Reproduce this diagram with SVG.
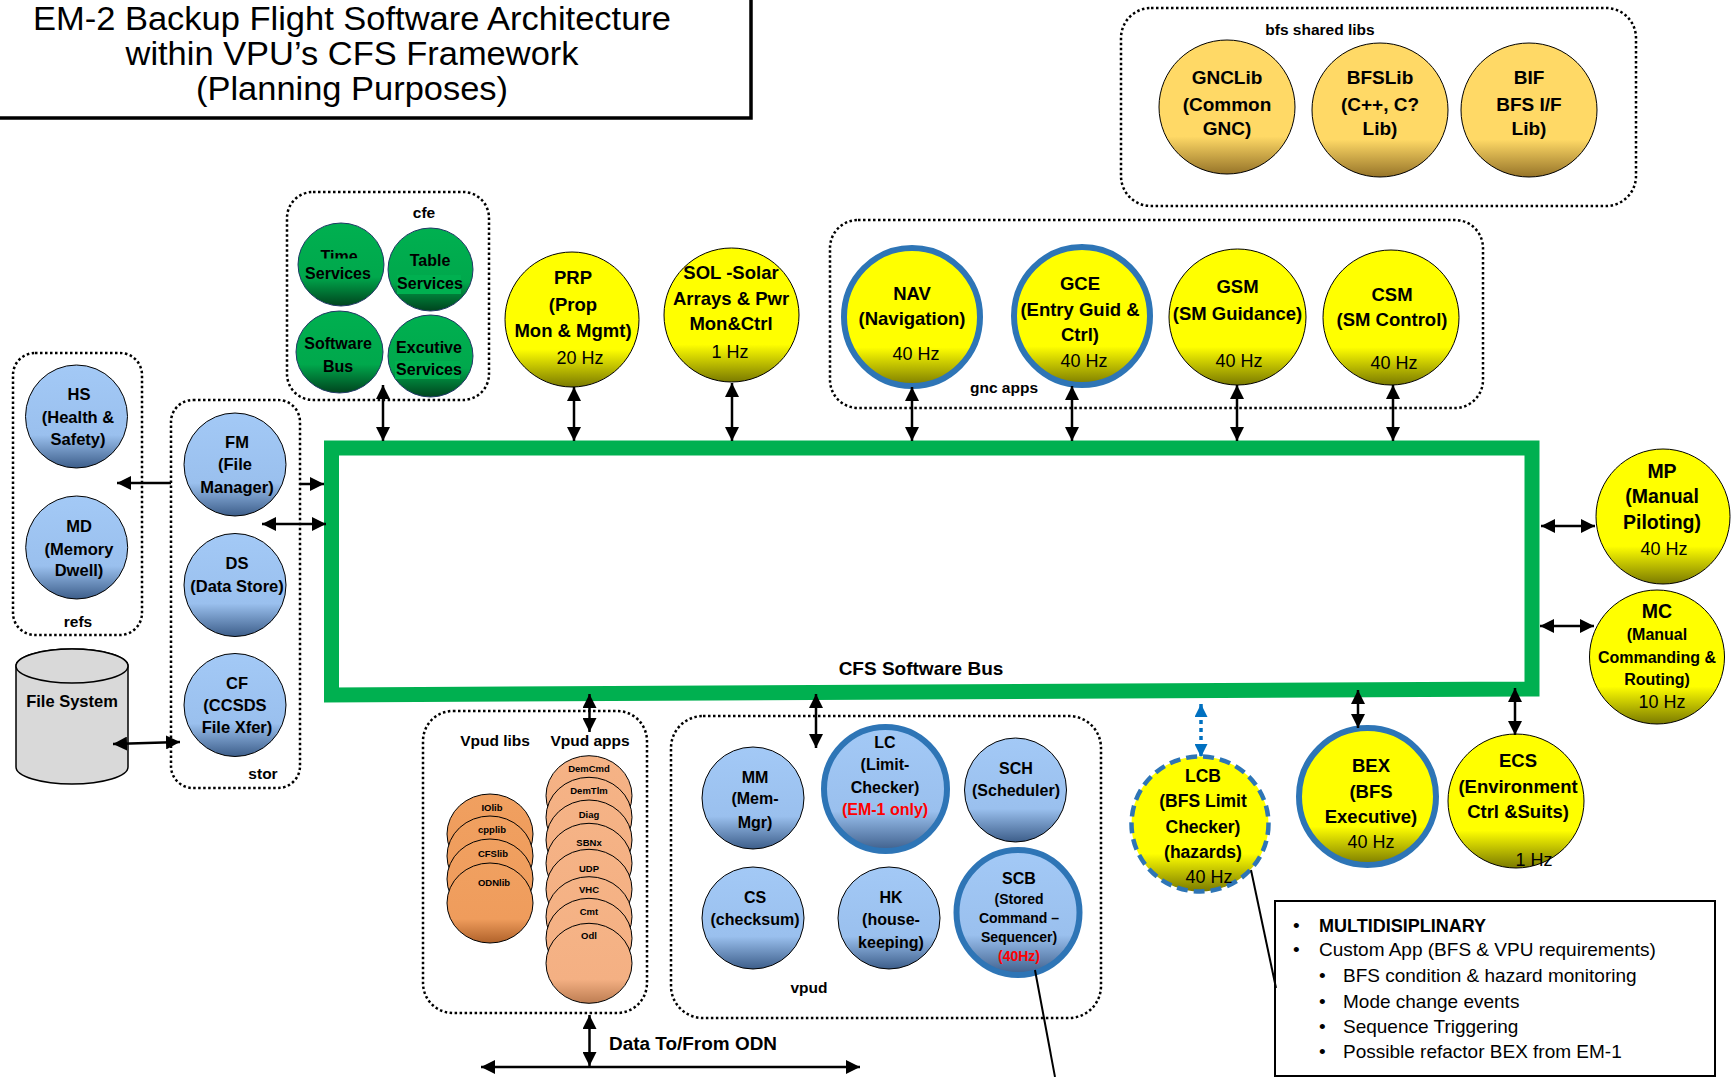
<svg xmlns="http://www.w3.org/2000/svg" width="1731" height="1077" viewBox="0 0 1731 1077">
<defs>
<linearGradient id="gBlue" x1="0" y1="0" x2="0" y2="1"><stop offset="0" stop-color="#A3C9F6"/><stop offset="0.68" stop-color="#9AC0EE"/><stop offset="1" stop-color="#3D5E8A"/></linearGradient>
<linearGradient id="gYel" x1="0" y1="0" x2="0" y2="1"><stop offset="0" stop-color="#FFFF00"/><stop offset="0.72" stop-color="#FFFF00"/><stop offset="1" stop-color="#7A7A00"/></linearGradient>
<linearGradient id="gGold" x1="0" y1="0" x2="0" y2="1"><stop offset="0" stop-color="#FFD966"/><stop offset="0.72" stop-color="#FFD966"/><stop offset="1" stop-color="#967429"/></linearGradient>
<linearGradient id="gGreen" x1="0" y1="0" x2="0" y2="1"><stop offset="0" stop-color="#00B050"/><stop offset="0.65" stop-color="#00A84C"/><stop offset="1" stop-color="#00441E"/></linearGradient>
<linearGradient id="gOr" x1="0" y1="0" x2="0" y2="1"><stop offset="0" stop-color="#F0A060"/><stop offset="0.7" stop-color="#EF9C5C"/><stop offset="1" stop-color="#B0622A"/></linearGradient>
<linearGradient id="gOrL" x1="0" y1="0" x2="0" y2="1"><stop offset="0" stop-color="#F5B386"/><stop offset="0.7" stop-color="#F4B083"/><stop offset="1" stop-color="#BD7D52"/></linearGradient>
<clipPath id="clipTime"><rect x="300" y="230" width="80" height="28.5"/></clipPath>
<marker id="ah" viewBox="0 0 14 14" refX="14" refY="7" markerWidth="14" markerHeight="14" markerUnits="userSpaceOnUse" orient="auto-start-reverse"><path d="M0,0 L14,7 L0,14 Z" fill="#000"/></marker>
<marker id="ahb" viewBox="0 0 14 14" refX="14" refY="7" markerWidth="13" markerHeight="13" markerUnits="userSpaceOnUse" orient="auto-start-reverse"><path d="M0,0 L14,7 L0,14 Z" fill="#0070C0"/></marker>
<style>
.grp{fill:none;stroke:#000;stroke-width:2.5;stroke-dasharray:2.5 2.5}
.t{font-family:"Liberation Sans",Arial,sans-serif;font-weight:bold;text-anchor:middle;fill:#000}
.hz{font-weight:normal}
.lbl{font-size:15.5px}
.red{fill:#FF0000}
.conn line{stroke:#000;stroke-width:2.5;fill:none}
.blue{fill:url(#gBlue);stroke:#000;stroke-width:1}
.yel{fill:url(#gYel);stroke:#000;stroke-width:1}
.gold{fill:url(#gGold);stroke:#000;stroke-width:1}
.grn{fill:url(#gGreen);stroke:#1F3864;stroke-width:1}
.or{fill:url(#gOr);stroke:#000;stroke-width:1}
.orl{fill:url(#gOrL);stroke:#000;stroke-width:1}
.bb{stroke:#2E75B6;stroke-width:6}
.f19{font-size:19px}.f185{font-size:18.5px}.f18{font-size:18px}.f175{font-size:17.5px}.f165{font-size:16.5px}.f16{font-size:16px}.f14{font-size:14px}.f9{font-size:9.5px}
.co{font-family:"Liberation Sans",Arial,sans-serif;font-size:19px;fill:#000}
.tt{font-family:"Liberation Sans",Arial,sans-serif;font-size:33px;text-anchor:middle;fill:#000}
</style>
</defs>
<rect x="0" y="0" width="1731" height="1077" fill="#fff"/>

<!-- title -->
<g id="title">
<rect x="-4" y="-4" width="755" height="122" fill="#fff" stroke="#000" stroke-width="3.5"/>
<text class="tt" x="352" y="30" textLength="638" lengthAdjust="spacingAndGlyphs">EM-2 Backup Flight Software Architecture</text>
<text class="tt" x="352" y="65" textLength="453" lengthAdjust="spacingAndGlyphs">within VPU’s CFS Framework</text>
<text class="tt" x="352" y="100" textLength="312" lengthAdjust="spacingAndGlyphs">(Planning Purposes)</text>
</g>

<!-- group boxes -->
<g id="groups">
<rect class="grp" x="1121" y="8" width="515" height="198" rx="30"/>
<text class="t lbl" x="1320" y="35">bfs shared libs</text>
<rect class="grp" x="287" y="192" width="202" height="208" rx="26"/>
<text class="t lbl" x="424" y="218">cfe</text>
<rect class="grp" x="830" y="220" width="653" height="188" rx="28"/>
<text class="t lbl" x="1004" y="393">gnc apps</text>
<rect class="grp" x="13" y="353" width="129" height="282" rx="22"/>
<text class="t lbl" x="78" y="627">refs</text>
<rect class="grp" x="171" y="400" width="129" height="388" rx="22"/>
<text class="t lbl" x="263" y="779">stor</text>
<rect class="grp" x="423" y="711" width="224" height="302" rx="30"/>
<text class="t lbl" x="495" y="746">Vpud libs</text>
<text class="t lbl" x="590" y="746">Vpud apps</text>
<rect class="grp" x="671" y="716" width="430" height="302" rx="32"/>
<text class="t lbl" x="809" y="993">vpud</text>
</g>

<!-- bus -->
<g id="bus">
<path d="M331.5,448 L1532,448 L1532,689 L331.5,695 Z" fill="none" stroke="#00B050" stroke-width="15" stroke-linejoin="miter"/>
<text class="t f19" x="921" y="675">CFS Software Bus</text>
</g>

<!-- bfs shared libs -->
<g id="node-gnclib"><ellipse class="gold" cx="1227" cy="107" rx="68" ry="67"/>
<text class="t f19" x="1227" y="84">GNCLib</text><text class="t f19" x="1227" y="111">(Common</text><text class="t f19" x="1227" y="135">GNC)</text></g>
<g id="node-bfslib"><ellipse class="gold" cx="1380" cy="110" rx="68" ry="67"/>
<text class="t f19" x="1380" y="84">BFSLib</text><text class="t f19" x="1380" y="111">(C++, C?</text><text class="t f19" x="1380" y="135">Lib)</text></g>
<g id="node-bif"><ellipse class="gold" cx="1529" cy="110" rx="68" ry="67"/>
<text class="t f19" x="1529" y="84">BIF</text><text class="t f19" x="1529" y="111">BFS I/F</text><text class="t f19" x="1529" y="135">Lib)</text></g>

<!-- cfe -->
<g id="node-time"><ellipse class="grn" cx="341" cy="264.5" rx="43" ry="41.5"/>
<text class="t f16" x="339" y="262" clip-path="url(#clipTime)">Time</text><text class="t f16" x="338" y="278.5">Services</text></g>
<g id="node-table"><ellipse class="grn" cx="430.5" cy="269.5" rx="42.5" ry="41.5"/>
<rect x="397" y="275" width="64" height="19" fill="#00B050"/>
<text class="t f16" x="430" y="266">Table</text><text class="t f16" x="430" y="289">Services</text></g>
<g id="node-swbus"><ellipse class="grn" cx="339.5" cy="352" rx="43.5" ry="41"/>
<text class="t f16" x="338" y="349">Software</text><text class="t f16" x="338" y="372">Bus</text></g>
<g id="node-exec"><ellipse class="grn" cx="430.5" cy="356" rx="42.5" ry="41"/>
<rect x="395" y="361" width="65" height="18" fill="#00B050"/>
<text class="t f16" x="429" y="353">Excutive</text><text class="t f16" x="429" y="375">Services</text></g>

<!-- top yellow apps -->
<g id="node-prp"><ellipse class="yel" cx="572" cy="319.5" rx="67" ry="67.5"/>
<text class="t f185" x="573" y="284">PRP</text><text class="t f185" x="573" y="310.5">(Prop</text><text class="t f185" x="573" y="336.5">Mon &amp; Mgmt)</text><text class="t f18 hz" x="580" y="364">20 Hz</text></g>
<g id="node-sol"><ellipse class="yel" cx="731.5" cy="315" rx="67.5" ry="67"/>
<text class="t f185" x="731" y="278.5">SOL -Solar</text><text class="t f185" x="731" y="304.5">Arrays &amp; Pwr</text><text class="t f185" x="731" y="329.5">Mon&amp;Ctrl</text><text class="t f18 hz" x="730" y="358">1 Hz</text></g>
<g id="node-nav"><ellipse class="yel bb" cx="912" cy="317" rx="68" ry="69"/>
<text class="t f185" x="912" y="299.5">NAV</text><text class="t f185" x="912" y="324.5">(Navigation)</text><text class="t f18 hz" x="916" y="360">40 Hz</text></g>
<g id="node-gce"><ellipse class="yel bb" cx="1082" cy="316" rx="68" ry="69"/>
<text class="t f185" x="1080" y="289.5">GCE</text><text class="t f185" x="1080" y="315.5">(Entry Guid &amp;</text><text class="t f185" x="1080" y="340.5">Ctrl)</text><text class="t f18 hz" x="1084" y="367">40 Hz</text></g>
<g id="node-gsm"><ellipse class="yel" cx="1237.5" cy="317" rx="68.5" ry="68"/>
<text class="t f185" x="1237.5" y="292.5">GSM</text><text class="t f185" x="1237.5" y="319.5">(SM Guidance)</text><text class="t f18 hz" x="1239" y="367">40 Hz</text></g>
<g id="node-csm"><ellipse class="yel" cx="1391" cy="317.5" rx="68" ry="67.5"/>
<text class="t f185" x="1392" y="300.5">CSM</text><text class="t f185" x="1392" y="325.5">(SM Control)</text><text class="t f18 hz" x="1394" y="369">40 Hz</text></g>

<!-- right apps -->
<g id="node-mp"><ellipse class="yel" cx="1663" cy="516.5" rx="67" ry="67.5"/>
<text class="t" style="font-size:19.5px" x="1662" y="477.5">MP</text><text class="t" style="font-size:19.5px" x="1662" y="503">(Manual</text><text class="t" style="font-size:19.5px" x="1662" y="528.5">Piloting)</text><text class="t f18 hz" x="1664" y="554.5">40 Hz</text></g>
<g id="node-mc"><ellipse class="yel" cx="1657" cy="657" rx="67.5" ry="67"/>
<text class="t" style="font-size:19.5px" x="1657" y="617.5">MC</text><text class="t f16" x="1657" y="639.5">(Manual</text><text class="t f16" x="1657" y="662.5">Commanding &amp;</text><text class="t f16" x="1657" y="685">Routing)</text><text class="t f18 hz" x="1662" y="707.5">10 Hz</text></g>

<!-- bottom right apps -->
<g id="node-lcb"><ellipse cx="1200" cy="824" rx="68.5" ry="67.5" fill="url(#gYel)" stroke="#2E75B6" stroke-width="4.5" stroke-dasharray="11 6"/>
<text class="t f175" x="1203" y="781.5">LCB</text><text class="t f175" x="1203" y="807">(BFS Limit</text><text class="t f175" x="1203" y="832.5">Checker)</text><text class="t f175" x="1203" y="858">(hazards)</text><text class="t f18 hz" x="1209" y="883">40 Hz</text></g>
<g id="node-bex"><ellipse class="yel bb" cx="1367.5" cy="796.5" rx="68.5" ry="68.5"/>
<text class="t f185" x="1371" y="772">BEX</text><text class="t f185" x="1371" y="797.5">(BFS</text><text class="t f185" x="1371" y="823">Executive)</text><text class="t f18 hz" x="1371" y="847.5">40 Hz</text></g>
<g id="node-ecs"><ellipse class="yel" cx="1516" cy="801" rx="68" ry="67"/>
<text class="t f185" x="1518" y="767">ECS</text><text class="t f185" x="1518" y="792.5">(Environment</text><text class="t f185" x="1518" y="818">Ctrl &amp;Suits)</text><text class="t f18 hz" x="1534" y="865.5">1 Hz</text></g>

<!-- refs -->
<g id="node-hs"><ellipse class="blue" cx="76.5" cy="416.5" rx="51" ry="51.5"/>
<text class="t f165" x="79" y="400">HS</text><text class="t f165" x="78" y="423">(Health &amp;</text><text class="t f165" x="78" y="445">Safety)</text></g>
<g id="node-md"><ellipse class="blue" cx="76.7" cy="547.5" rx="51" ry="51.5"/>
<text class="t f165" x="79" y="532">MD</text><text class="t f165" x="79" y="555">(Memory</text><text class="t f165" x="79" y="576">Dwell)</text></g>

<!-- file system -->
<g id="node-filesystem">
<path d="M16,666 L16,767 A56,17 0 0 0 128,767 L128,666 A56,17 0 0 0 16,666 Z" fill="#D9D9D9" stroke="#000" stroke-width="1.5"/>
<ellipse cx="72" cy="666" rx="56" ry="17" fill="#D9D9D9" stroke="#000" stroke-width="1.5"/>
<text class="t" style="font-size:16.5px" x="72" y="707">File System</text>
</g>

<!-- stor -->
<g id="node-fm"><ellipse class="blue" cx="235" cy="464.5" rx="51" ry="51.5"/>
<text class="t f165" x="237" y="448">FM</text><text class="t f165" x="235" y="470">(File</text><text class="t f165" x="237" y="493">Manager)</text></g>
<g id="node-ds"><ellipse class="blue" cx="235" cy="585" rx="51" ry="51.5"/>
<text class="t f165" x="237" y="569">DS</text><text class="t f165" x="237" y="592">(Data Store)</text></g>
<g id="node-cf"><ellipse class="blue" cx="235" cy="705" rx="51" ry="51.5"/>
<text class="t f165" x="237" y="689">CF</text><text class="t f165" x="235" y="711">(CCSDS</text><text class="t f165" x="237" y="733">File Xfer)</text></g>

<!-- vpud libs -->
<g id="node-vpudlibs">
<ellipse class="or" cx="490" cy="834" rx="43" ry="40"/>
<ellipse class="or" cx="490" cy="856" rx="43" ry="40"/>
<ellipse class="or" cx="490" cy="879" rx="43" ry="40"/>
<ellipse class="or" cx="490" cy="903" rx="43" ry="40"/>
<text class="t f9" x="492" y="810.5">IOlib</text>
<text class="t f9" x="492" y="832.5">cpplib</text>
<text class="t f9" x="493" y="856.5">CFSlib</text>
<text class="t f9" x="494" y="885.5">ODNlib</text>
</g>
<!-- vpud apps -->
<g id="node-vpudapps">
<ellipse class="orl" cx="589" cy="795.7" rx="43" ry="40"/>
<ellipse class="orl" cx="589" cy="817.3" rx="43" ry="40"/>
<ellipse class="orl" cx="589" cy="840" rx="43" ry="40"/>
<ellipse class="orl" cx="589" cy="863.3" rx="43" ry="40"/>
<ellipse class="orl" cx="589" cy="889.3" rx="43" ry="40"/>
<ellipse class="orl" cx="589" cy="916.7" rx="43" ry="40"/>
<ellipse class="orl" cx="589" cy="938.3" rx="43" ry="40"/>
<ellipse class="orl" cx="589" cy="963.3" rx="43" ry="40"/>
<text class="t f9" x="589" y="772">DemCmd</text>
<text class="t f9" x="589" y="793.5">DemTlm</text>
<text class="t f9" x="589" y="818">Diag</text>
<text class="t f9" x="589" y="846">SBNx</text>
<text class="t f9" x="589" y="871.5">UDP</text>
<text class="t f9" x="589" y="892.5">VHC</text>
<text class="t f9" x="589" y="915">Cmt</text>
<text class="t f9" x="589" y="939">Odl</text>
</g>

<!-- vpud -->
<g id="node-mm"><ellipse class="blue" cx="753" cy="798" rx="51" ry="51"/>
<text class="t f16" x="755" y="783">MM</text><text class="t f16" x="755" y="804">(Mem-</text><text class="t f16" x="755" y="828">Mgr)</text></g>
<g id="node-lc"><ellipse class="blue bb" cx="885.5" cy="789" rx="61.5" ry="62"/>
<text class="t f16" x="885" y="748">LC</text><text class="t f16" x="885" y="770">(Limit-</text><text class="t f16" x="885" y="793">Checker)</text><text class="t f16 red" x="885" y="815">(EM-1 only)</text></g>
<g id="node-sch"><ellipse class="blue" cx="1015.5" cy="790" rx="51" ry="52"/>
<text class="t f16" x="1016" y="774">SCH</text><text class="t f16" x="1016" y="796">(Scheduler)</text></g>
<g id="node-cs"><ellipse class="blue" cx="753" cy="918" rx="51" ry="51"/>
<text class="t f16" x="755" y="903">CS</text><text class="t f16" x="755" y="925">(checksum)</text></g>
<g id="node-hk"><ellipse class="blue" cx="889" cy="918" rx="51" ry="51"/>
<text class="t f16" x="891" y="903">HK</text><text class="t f16" x="891" y="925">(house-</text><text class="t f16" x="891" y="948">keeping)</text></g>
<g id="node-scb"><ellipse class="blue bb" cx="1018" cy="912.5" rx="61.5" ry="62.5"/>
<text class="t f16" x="1019" y="884">SCB</text><text class="t f14" x="1019" y="904">(Stored</text><text class="t f14" x="1019" y="923">Command –</text><text class="t f14" x="1019" y="942">Sequencer)</text><text class="t f14 red" x="1019" y="961">(40Hz)</text></g>

<!-- callout -->
<g id="callout">
<rect x="1275" y="901" width="440" height="175" fill="#fff" stroke="#000" stroke-width="2"/>
<text class="co" x="1293" y="932">•</text><text class="co" x="1319" y="932" style="font-weight:bold;font-size:18px">MULTIDISIPLINARY</text>
<text class="co" x="1293" y="956">•</text><text class="co" x="1319" y="956">Custom App (BFS &amp; VPU requirements)</text>
<text class="co" x="1319" y="982">•</text><text class="co" x="1343" y="982">BFS condition &amp; hazard monitoring</text>
<text class="co" x="1319" y="1008">•</text><text class="co" x="1343" y="1008">Mode change events</text>
<text class="co" x="1319" y="1033">•</text><text class="co" x="1343" y="1033">Sequence Triggering</text>
<text class="co" x="1319" y="1058">•</text><text class="co" x="1343" y="1058">Possible refactor BEX from EM-1</text>
</g>

<!-- connectors -->
<g id="connectors" class="conn">
<line x1="383" y1="385" x2="383" y2="441" marker-start="url(#ah)" marker-end="url(#ah)"/>
<line x1="574" y1="387" x2="574" y2="441" marker-start="url(#ah)" marker-end="url(#ah)"/>
<line x1="732" y1="383" x2="732" y2="441" marker-start="url(#ah)" marker-end="url(#ah)"/>
<line x1="912" y1="387" x2="912" y2="441" marker-start="url(#ah)" marker-end="url(#ah)"/>
<line x1="1072" y1="386" x2="1072" y2="441" marker-start="url(#ah)" marker-end="url(#ah)"/>
<line x1="1237" y1="385" x2="1237" y2="441" marker-start="url(#ah)" marker-end="url(#ah)"/>
<line x1="1393" y1="385" x2="1393" y2="441" marker-start="url(#ah)" marker-end="url(#ah)"/>
<line x1="1541" y1="526" x2="1595" y2="526" marker-start="url(#ah)" marker-end="url(#ah)"/>
<line x1="1540" y1="626" x2="1594" y2="626" marker-start="url(#ah)" marker-end="url(#ah)"/>
<line x1="1515" y1="688" x2="1515" y2="735" marker-start="url(#ah)" marker-end="url(#ah)"/>
<line x1="1358" y1="690" x2="1358" y2="728" marker-start="url(#ah)" marker-end="url(#ah)"/>
<line x1="1201" y1="704" x2="1201" y2="757" marker-start="url(#ahb)" marker-end="url(#ahb)" style="stroke:#0070C0;stroke-width:3.5;stroke-dasharray:4 4"/>
<line x1="816" y1="694" x2="816" y2="748" marker-start="url(#ah)" marker-end="url(#ah)"/>
<line x1="589.5" y1="694" x2="589.5" y2="732" marker-start="url(#ah)" marker-end="url(#ah)"/>
<line x1="589.5" y1="1015" x2="589.5" y2="1066" marker-start="url(#ah)" marker-end="url(#ah)"/>
<line x1="481" y1="1067" x2="860" y2="1067" marker-start="url(#ah)" marker-end="url(#ah)"/>
<line x1="171" y1="483" x2="117" y2="483" marker-end="url(#ah)"/>
<line x1="300" y1="484" x2="324" y2="484" marker-end="url(#ah)"/>
<line x1="262" y1="524" x2="326" y2="524" marker-start="url(#ah)" marker-end="url(#ah)"/>
<line x1="113" y1="744" x2="180" y2="742" marker-start="url(#ah)" marker-end="url(#ah)"/>
<line x1="1251" y1="870" x2="1276" y2="988" style="stroke-width:2"/>
<line x1="1035" y1="970" x2="1055" y2="1077" style="stroke-width:2"/>
</g>
<text class="t" x="609" y="1050" style="text-anchor:start;font-size:18px" textLength="168" lengthAdjust="spacingAndGlyphs">Data To/From ODN</text>
</svg>
